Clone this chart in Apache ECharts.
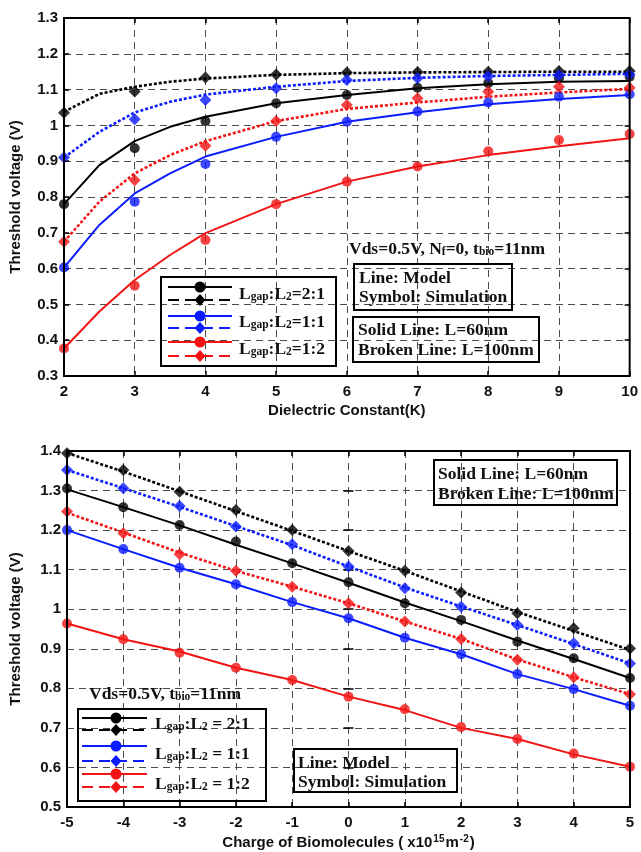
<!DOCTYPE html>
<html>
<head>
<meta charset="utf-8">
<script src="https://cdn.jsdelivr.net/npm/echarts@6/dist/echarts.min.js"></script>
<style>
  html, body { margin: 0; padding: 0; background: #fff; }
  #chart { width: 641px; height: 852px; }
</style>
</head>
<body>
<div id="chart"></div>
<script>
// ---- Threshold voltage vs dielectric constant K ----
const K_MODEL = [2, 2.5, 3, 3.5, 4, 5, 6, 7, 8, 9, 10];
const K_SIM = [2, 3, 4, 5, 6, 7, 8, 9, 10];

const k60r21Model  = [0.780, 0.889, 0.956, 0.996, 1.024, 1.062, 1.085, 1.104, 1.115, 1.122, 1.124];
const k60r21Sim    = [0.780, 0.936, 1.012, 1.062, 1.085, 1.105, 1.118, 1.132, 1.136];
const k100r21Model = [1.038, 1.088, 1.108, 1.122, 1.131, 1.141, 1.146, 1.148, 1.149, 1.150, 1.150];
const k100r21Sim   = [1.035, 1.095, 1.134, 1.142, 1.148, 1.149, 1.150, 1.152, 1.152];
const k60r11Model  = [0.603, 0.722, 0.810, 0.866, 0.913, 0.968, 1.010, 1.037, 1.059, 1.074, 1.085];
const k60r11Sim    = [0.603, 0.787, 0.892, 0.968, 1.010, 1.039, 1.064, 1.080, 1.087];
const k100r11Model = [0.910, 0.982, 1.036, 1.066, 1.086, 1.108, 1.124, 1.133, 1.138, 1.141, 1.144];
const k100r11Sim   = [0.910, 1.017, 1.071, 1.104, 1.127, 1.132, 1.137, 1.140, 1.142];
const k60r12Model  = [0.377, 0.480, 0.568, 0.638, 0.699, 0.780, 0.843, 0.885, 0.917, 0.942, 0.964];
const k60r12Sim    = [0.377, 0.552, 0.680, 0.780, 0.843, 0.885, 0.928, 0.959, 0.976];
const k100r12Model = [0.675, 0.787, 0.866, 0.917, 0.956, 1.012, 1.046, 1.064, 1.080, 1.092, 1.102];
const k100r12Sim   = [0.675, 0.847, 0.943, 1.012, 1.057, 1.076, 1.094, 1.108, 1.105];

const K_TICKS = { min: 2, max: 10, step: 1 };
const VT_TOP_TICKS = { min: 0.3, max: 1.3, step: 0.1 };

// ---- Threshold voltage vs charge of biomolecules ----
const Q = [-5, -4, -3, -2, -1, 0, 1, 2, 3, 4, 5];

const q60r21Model  = [1.303, 1.258, 1.212, 1.163, 1.116, 1.067, 1.017, 0.970, 0.921, 0.874, 0.826];
const q60r21Sim    = [1.305, 1.258, 1.213, 1.171, 1.116, 1.068, 1.015, 0.973, 0.918, 0.876, 0.826];
const q100r21Model = [1.395, 1.348, 1.298, 1.248, 1.198, 1.147, 1.097, 1.045, 0.993, 0.945, 0.897];
const q100r21Sim   = [1.394, 1.352, 1.297, 1.251, 1.200, 1.147, 1.097, 1.042, 0.990, 0.952, 0.901];
const q60r11Model  = [1.200, 1.152, 1.105, 1.063, 1.018, 0.977, 0.928, 0.886, 0.836, 0.798, 0.756];
const q60r11Sim    = [1.200, 1.152, 1.105, 1.063, 1.018, 0.977, 0.928, 0.886, 0.836, 0.798, 0.756];
const q100r11Model = [1.352, 1.306, 1.259, 1.210, 1.162, 1.108, 1.055, 1.007, 0.960, 0.912, 0.863];
const q100r11Sim   = [1.352, 1.306, 1.261, 1.209, 1.164, 1.108, 1.053, 1.006, 0.960, 0.914, 0.863];
const q60r12Model  = [0.964, 0.924, 0.893, 0.852, 0.821, 0.779, 0.745, 0.700, 0.672, 0.633, 0.602];
const q60r12Sim    = [0.964, 0.924, 0.890, 0.852, 0.821, 0.779, 0.747, 0.702, 0.672, 0.635, 0.602];
const q100r12Model = [1.244, 1.194, 1.143, 1.097, 1.057, 1.015, 0.969, 0.925, 0.873, 0.828, 0.785];
const q100r12Sim   = [1.247, 1.192, 1.139, 1.097, 1.057, 1.015, 0.969, 0.925, 0.872, 0.828, 0.785];

const Q_TICKS = { min: -5, max: 5, step: 1 };
const VT_BOT_TICKS = { min: 0.5, max: 1.4, step: 0.1 };

const BLACK = '#000000';
const BLUE = '#0b1cff';
const RED = '#f21414';

const SANS = '"Liberation Sans", Arial, sans-serif';
const SERIF = '"Liberation Serif", "Times New Roman", serif';
const SERIF_SIZE = 17.5;
const SUB_SIZE = 11.5;

const zip = (xs, ys) => xs.map((x, i) => [x, ys[i]]);

function modelLine(name, xs, ys, color, broken, xi, yi) {
  return {
    name, type: 'line', xAxisIndex: xi, yAxisIndex: yi,
    data: zip(xs, ys), showSymbol: false, smooth: false, silent: true,
    lineStyle: { color, width: broken ? 2.6 : 2, type: broken ? [3, 2] : 'solid' },
    z: 3
  };
}
function simPoints(name, xs, ys, color, diamond, xi, yi) {
  return {
    name, type: 'scatter', xAxisIndex: xi, yAxisIndex: yi,
    data: zip(xs, ys), symbol: diamond ? 'diamond' : 'circle',
    symbolSize: diamond ? 12 : 10, clip: false, silent: true,
    itemStyle: { color }, z: 4
  };
}

const tickFmt = v => String(+(+v).toFixed(1));
const labelStyle = { fontFamily: SANS, fontWeight: 'bold', fontSize: 15, color: '#111' };
const nameStyle = { fontFamily: SANS, fontWeight: 'bold', fontSize: 15, color: '#111' };
const gridDash = { type: [7, 5], color: '#4a4a4a', width: 1 };
const innerTick = { show: true, inside: true, length: 5, lineStyle: { color: '#000', width: 1.5 } };

function xAxisFor(gi, t, name, nameGap, rich) {
  return [{
    gridIndex: gi, type: 'value', min: t.min, max: t.max, interval: t.step,
    axisLine: { show: false }, axisTick: innerTick,
    axisLabel: Object.assign({ margin: 8, formatter: tickFmt }, labelStyle),
    splitLine: { show: true, lineStyle: gridDash },
    name, nameLocation: 'middle', nameGap,
    nameTextStyle: rich ? Object.assign({ rich }, nameStyle) : nameStyle
  }, {
    gridIndex: gi, type: 'value', position: 'top', min: t.min, max: t.max, interval: t.step,
    axisLine: { show: false }, axisLabel: { show: false }, splitLine: { show: false },
    axisTick: innerTick
  }];
}
function yAxisFor(gi, t, nameGap) {
  return [{
    gridIndex: gi, type: 'value', min: t.min, max: t.max, interval: t.step,
    axisLine: { show: false }, axisTick: innerTick,
    axisLabel: Object.assign({ margin: 6, formatter: tickFmt }, labelStyle),
    splitLine: { show: true, lineStyle: gridDash },
    name: 'Threshold voltage (V)', nameLocation: 'middle', nameGap,
    nameTextStyle: nameStyle
  }, {
    gridIndex: gi, type: 'value', position: 'right', min: t.min, max: t.max, interval: t.step,
    axisLine: { show: false }, axisLabel: { show: false }, splitLine: { show: false },
    axisTick: innerTick
  }];
}

// ---- legend / annotation drawing helpers ----
const graphics = [];
function box(x, y, w, h) {
  graphics.push({ type: 'rect', shape: { x, y, width: w, height: h },
    style: { fill: 'none', stroke: '#000', lineWidth: 2 }, z: 10 });
}
function legendRow(x1, x2, xm, y, color, broken) {
  graphics.push({ type: 'line', shape: { x1, y1: y, x2, y2: y },
    style: { stroke: color, lineWidth: 2, lineDash: broken ? [11, 6] : null }, z: 10 });
  if (broken) {
    graphics.push({ type: 'polygon', shape: { points: [[xm, y - 6], [xm + 5.5, y], [xm, y + 6], [xm - 5.5, y]] },
      style: { fill: color }, z: 11 });
  } else {
    graphics.push({ type: 'circle', shape: { cx: xm, cy: y, r: 5.5 }, style: { fill: color }, z: 11 });
  }
}
const serifRich = {
  n: { fontFamily: SERIF, fontWeight: 'bold', fontSize: SERIF_SIZE, fill: '#111', color: '#111' },
  s: { fontFamily: SERIF, fontWeight: 'bold', fontSize: SUB_SIZE, fill: '#111', color: '#111', verticalAlign: 'bottom', padding: [6, 0, 0, 0] }
};
function richText(x, y, text) {
  graphics.push({ type: 'text', x, y, z: 12,
    style: { text, rich: serifRich, textVerticalAlign: 'middle', font: 'bold ' + SERIF_SIZE + 'px ' + SERIF, fill: '#111' } });
}
function plainText(x, y, text) {
  graphics.push({ type: 'text', x, y, z: 12,
    style: { text, font: 'bold ' + SERIF_SIZE + 'px ' + SERIF, fill: '#111', textVerticalAlign: 'middle' } });
}

// top panel legend
box(161, 277, 175, 89);
[[287, BLACK, false], [300, BLACK, true], [316, BLUE, false], [328, BLUE, true], [342, RED, false], [356, RED, true]]
  .forEach(r => legendRow(168, 232, 200, r[0], r[1], r[2]));
richText(239, 294, '{n|L}{s|gap}{n|:L}{s|2}{n|=2:1}');
richText(239, 322, '{n|L}{s|gap}{n|:L}{s|2}{n|=1:1}');
richText(239, 349, '{n|L}{s|gap}{n|:L}{s|2}{n|=1:2}');

// top panel annotations
richText(349, 249, '{n|Vds=0.5V, N}{s|f}{n|=0, t}{s|bio}{n|=11nm}');
box(354, 264, 158, 46);
plainText(359, 278, 'Line: Model');
plainText(359, 297, 'Symbol: Simulation');
box(353, 317, 186, 45);
plainText(358, 330, 'Solid Line: L=60nm');
plainText(358, 350, 'Broken Line: L=100nm');

// bottom panel annotations
box(434, 460, 183, 45);
plainText(438, 474, 'Solid Line: L=60nm');
plainText(438, 494, 'Broken Line: L=100nm');
richText(89, 694, '{n|Vds=0.5V, t}{s|bio}{n|=11nm}');

// bottom panel legend
box(78, 709, 188, 92);
[[718, BLACK, false], [730, BLACK, true], [746, BLUE, false], [761, BLUE, true], [774, RED, false], [787, RED, true]]
  .forEach(r => legendRow(82, 147, 116, r[0], r[1], r[2]));
richText(155, 724, '{n|L}{s|gap}{n|:L}{s|2}{n| = 2:1}');
richText(155, 754, '{n|L}{s|gap}{n|:L}{s|2}{n| = 1:1}');
richText(155, 784, '{n|L}{s|gap}{n|:L}{s|2}{n| = 1:2}');

box(294, 749, 163, 43);
plainText(298, 763, 'Line: Model');
plainText(298, 782, 'Symbol: Simulation');

const supRich = {
  t: { fontFamily: SANS, fontWeight: 'bold', fontSize: 15, color: '#111' },
  sup: { fontFamily: SANS, fontWeight: 'bold', fontSize: 10, color: '#111', verticalAlign: 'top', padding: [0, 1, 8, 1] }
};

// axis indices: x 0 = top panel (bottom side), x 2 = lower panel; y 0 / y 2 likewise
const series = [
  modelLine('L60 2:1', K_MODEL, k60r21Model, BLACK, false, 0, 0),
  modelLine('L100 2:1', K_MODEL, k100r21Model, BLACK, true, 0, 0),
  modelLine('L60 1:1', K_MODEL, k60r11Model, BLUE, false, 0, 0),
  modelLine('L100 1:1', K_MODEL, k100r11Model, BLUE, true, 0, 0),
  modelLine('L60 1:2', K_MODEL, k60r12Model, RED, false, 0, 0),
  modelLine('L100 1:2', K_MODEL, k100r12Model, RED, true, 0, 0),
  simPoints('S60 2:1', K_SIM, k60r21Sim, BLACK, false, 0, 0),
  simPoints('S100 2:1', K_SIM, k100r21Sim, BLACK, true, 0, 0),
  simPoints('S60 1:1', K_SIM, k60r11Sim, BLUE, false, 0, 0),
  simPoints('S100 1:1', K_SIM, k100r11Sim, BLUE, true, 0, 0),
  simPoints('S60 1:2', K_SIM, k60r12Sim, RED, false, 0, 0),
  simPoints('S100 1:2', K_SIM, k100r12Sim, RED, true, 0, 0),

  modelLine('Q L60 2:1', Q, q60r21Model, BLACK, false, 2, 2),
  modelLine('Q L100 2:1', Q, q100r21Model, BLACK, true, 2, 2),
  modelLine('Q L60 1:1', Q, q60r11Model, BLUE, false, 2, 2),
  modelLine('Q L100 1:1', Q, q100r11Model, BLUE, true, 2, 2),
  modelLine('Q L60 1:2', Q, q60r12Model, RED, false, 2, 2),
  modelLine('Q L100 1:2', Q, q100r12Model, RED, true, 2, 2),
  simPoints('Q S60 2:1', Q, q60r21Sim, BLACK, false, 2, 2),
  simPoints('Q S100 2:1', Q, q100r21Sim, BLACK, true, 2, 2),
  simPoints('Q S60 1:1', Q, q60r11Sim, BLUE, false, 2, 2),
  simPoints('Q S100 1:1', Q, q100r11Sim, BLUE, true, 2, 2),
  simPoints('Q S60 1:2', Q, q60r12Sim, RED, false, 2, 2),
  simPoints('Q S100 1:2', Q, q100r12Sim, RED, true, 2, 2)
];

const option = {
  animation: false,
  backgroundColor: '#fff',
  grid: [
    { left: 64, top: 18, width: 568, height: 358, show: true, borderColor: '#000', borderWidth: 2, backgroundColor: 'transparent', z: 5 },
    { left: 67, top: 451, width: 563, height: 356, show: true, borderColor: '#000', borderWidth: 2, backgroundColor: 'transparent', z: 5 }
  ],
  xAxis: [
    ...xAxisFor(0, K_TICKS, 'Dielectric Constant(K)', 27),
    ...xAxisFor(1, Q_TICKS, '{t|Charge of Biomolecules ( x10}{sup|15}{t|m}{sup|-2}{t|)}', 27, supRich)
  ],
  yAxis: [
    ...yAxisFor(0, VT_TOP_TICKS, 41),
    ...yAxisFor(1, VT_BOT_TICKS, 44)
  ],
  series,
  graphic: graphics
};

const chart = echarts.init(document.getElementById('chart'), null, { renderer: 'canvas' });
chart.setOption(option);
</script>
</body>
</html>
